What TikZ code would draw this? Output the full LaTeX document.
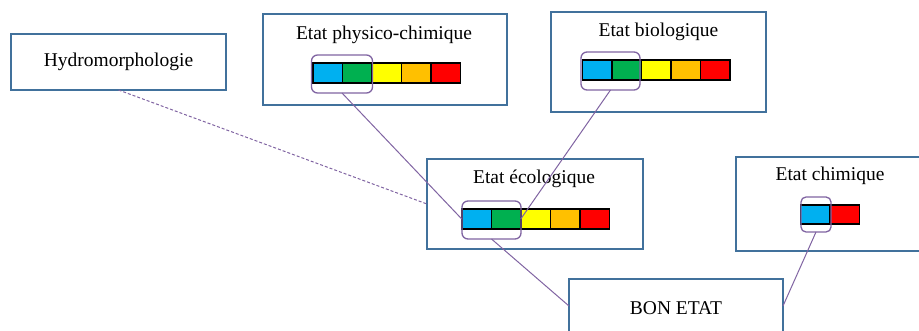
\documentclass[tikz,border=0pt]{standalone}
\usepackage{fontspec}
\setmainfont{Liberation Serif}
\definecolor{boxblue}{HTML}{41719C}
\definecolor{purp}{HTML}{8064A2}
\definecolor{cblue}{HTML}{00B0F0}
\definecolor{cgreen}{HTML}{00B050}
\definecolor{cyellow}{HTML}{FFFF00}
\definecolor{corange}{HTML}{FFC000}
\definecolor{cred}{HTML}{FF0000}
\tikzset{
  frame/.style={draw=boxblue, line width=1.2pt, fill=white, inner sep=0pt, outer sep=0pt},
  lbl/.style={inner sep=0pt, font=\fontsize{19.5}{22}\selectfont},
  cell/.style={draw=black, line width=1.5pt, minimum width=29.5pt, minimum height=20pt, inner sep=0pt, outer sep=0pt},
  ring/.style={draw=purp, line width=1.3pt, rounded corners=6pt, inner sep=0pt, outer sep=0pt},
  link/.style={draw=purp, line width=1pt},
}
\begin{document}
\begin{tikzpicture}[x=1pt,y=-1pt]
\useasboundingbox (0,0) rectangle (919,331);
% boxes
\node[frame, minimum width=215pt, minimum height=56pt] (hydro) at (118.5,62) {};
\node[lbl] at (118.5,62) {Hydromorphologie};
\node[frame, minimum width=244pt, minimum height=91pt] (phys) at (385,59.5) {};
\node[lbl] at (384,35) {Etat physico-chimique};
\node[frame, minimum width=215pt, minimum height=100pt] (bio) at (658.5,62) {};
\node[lbl] at (658.5,32) {Etat biologique};
\node[frame, minimum width=216pt, minimum height=90pt] (eco) at (535,204) {};
\node[lbl] at (534,179) {Etat écologique};
\node[frame, minimum width=200pt, minimum height=94pt, anchor=north west] (chem) at (736,157) {};
\node[lbl] at (830,176) {Etat chimique};
\node[frame, minimum width=214pt, minimum height=54pt] (bon) at (676,306) {};
\node[lbl] at (676,308) {BON ETAT};
% bars
\foreach \p/\x/\y in {p/327.5/73, b/597/70, e/476.5/219}{
  \node[cell, fill=cblue] (\p1) at (\x,\y) {};
  \node[cell, fill=cgreen, anchor=west] (\p2) at (\p1.east) {};
  \node[cell, fill=cyellow, anchor=west] (\p3) at (\p2.east) {};
  \node[cell, fill=corange, anchor=west] (\p4) at (\p3.east) {};
  \node[cell, fill=cred, anchor=west] (\p5) at (\p4.east) {};
}
\node[cell, fill=cblue, minimum height=19pt] (c1) at (815,214.5) {};
\node[cell, fill=cred, minimum height=19pt, anchor=west] (c2) at (c1.east) {};
% rings
\node[ring, minimum width=61pt, minimum height=38pt] (pr) at (342,74) {};
\node[ring, minimum width=59pt, minimum height=38pt] (br) at (610.5,71) {};
\node[ring, minimum width=59pt, minimum height=38pt] (er) at (491.5,220) {};
\node[ring, minimum width=30pt, minimum height=35pt, rounded corners=5pt] (cr) at (816,214.5) {};
% connectors
\draw[link, dashed, dash pattern=on 3pt off 2pt] (hydro.south) -- (eco.west);
\draw[link] (pr.south) -- (e1.west);
\draw[link] (br.south) -- (e2.east);
\draw[link] (er.south) -- (bon.west);
\draw[link] (cr.south) -- (bon.east);
\end{tikzpicture}
\end{document}
